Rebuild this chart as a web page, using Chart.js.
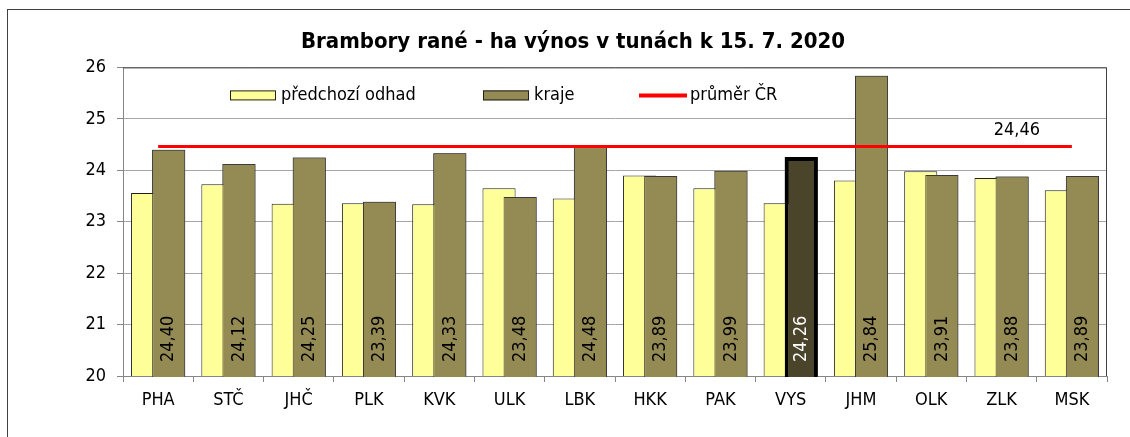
<!DOCTYPE html>
<html lang="cs">
<head>
  <meta charset="UTF-8">
  <title>Brambory rané - ha výnos v tunách</title>
  <script src="https://cdn.jsdelivr.net/npm/chart.js"></script>
  <style>
    body { margin: 0; background: #fff; }
    #wrap { position: relative; width: 1130px; height: 437px; overflow: hidden; }
    #frame {
      position: absolute;
      left: 7px; top: 9px;
      width: 1200px; height: 500px;
      border: 1px solid #404040;
    }
    #chart { position: absolute; left: 0; top: 0; }
  </style>
</head>
<body>
  <div id="wrap">
    <div id="frame"></div>
    <canvas id="chart" width="1130" height="437"></canvas>
  </div>

  <script>
    // data
    const kraje = ['PHA', 'STČ', 'JHČ', 'PLK', 'KVK', 'ULK', 'LBK', 'HKK', 'PAK', 'VYS', 'JHM', 'OLK', 'ZLK', 'MSK'];
    const predchoziOdhad = [23.56, 23.73, 23.35, 23.36, 23.34, 23.65, 23.45, 23.90, 23.65, 23.36, 23.80, 23.98, 23.85, 23.61];
    const krajeVynos = [24.40, 24.12, 24.25, 23.39, 24.33, 23.48, 24.48, 23.89, 23.99, 24.26, 25.84, 23.91, 23.88, 23.89];
    const prumerCR = 24.46;
    const yMin = 20, yMax = 26, yKrok = 1;
    const zvyrazneny = 'VYS';

    const FONT = "'DejaVu Sans Condensed', 'DejaVu Sans', sans-serif";
    Chart.defaults.font.family = FONT;
    Chart.defaults.font.size = 18;
    Chart.defaults.color = '#000';

    const fmt = v => v.toFixed(2).replace('.', ',');

    // sloupce krajů mají být nad předchozím odhadem -> po vykreslení žlutých je kreslíme znovu
    const poradiPlugin = {
      id: 'poradi',
      afterDatasetDraw(chart, args) {
        if (args.index !== 0) return;
        const { ctx, chartArea: a } = chart;
        ctx.save();
        ctx.beginPath();
        ctx.rect(a.left, a.top, a.right - a.left, a.bottom - a.top + 1);
        ctx.clip();
        chart.getDatasetMeta(1).controller.draw();
        ctx.restore();
      }
    };

    // popisky hodnot ve sloupcich + hodnota prumeru
    const popiskyPlugin = {
      id: 'popisky',
      afterDatasetsDraw(chart) {
        const ctx = chart.ctx;
        const y0 = chart.scales.y.getPixelForValue(yMin);
        const meta = chart.getDatasetMeta(1);
        ctx.save();
        ctx.font = '18px ' + FONT;
        meta.data.forEach((bar, i) => {
          ctx.save();
          ctx.translate(bar.x, y0 - 14);
          ctx.rotate(-Math.PI / 2);
          ctx.textAlign = 'left';
          ctx.textBaseline = 'middle';
          ctx.fillStyle = kraje[i] === zvyrazneny ? '#fff' : '#000';
          ctx.fillText(fmt(krajeVynos[i]), 0, 0);
          ctx.restore();
        });
        const lineMeta = chart.getDatasetMeta(2);
        const last = lineMeta.data[lineMeta.data.length - 1];
        ctx.textAlign = 'center';
        ctx.textBaseline = 'middle';
        ctx.fillStyle = '#000';
        ctx.fillText(fmt(prumerCR), last.x - 55, last.y - 16);
        ctx.restore();
      }
    };

    // ramecek grafu a legenda uvnitr plochy
    const legendaPlugin = {
      id: 'legenda',
      afterDraw(chart) {
        const { ctx, chartArea } = chart;
        ctx.save();
        ctx.strokeStyle = '#404040';
        ctx.lineWidth = 1;
        ctx.beginPath();
        ctx.moveTo(chartArea.left, chartArea.top + 0.5);
        ctx.lineTo(chartArea.right - 0.5, chartArea.top + 0.5);
        ctx.lineTo(chartArea.right - 0.5, chartArea.bottom);
        ctx.stroke();

        const ds = chart.data.datasets;
        const y = chartArea.top + 28;
        const polozky = [
          { d: ds[0], dx: 107, typ: 'box' },
          { d: ds[1], dx: 360, typ: 'box' },
          { d: ds[2], dx: 516, typ: 'line' }
        ];
        ctx.font = '18px ' + FONT;
        ctx.textBaseline = 'middle';
        ctx.textAlign = 'left';
        polozky.forEach(p => {
          const x = chartArea.left + p.dx;
          if (p.typ === 'box') {
            const bg = Array.isArray(p.d.backgroundColor) ? p.d.backgroundColor[0] : p.d.backgroundColor;
            ctx.fillStyle = bg;
            ctx.fillRect(x, y - 5, 46, 10);
            ctx.strokeStyle = '#202020';
            ctx.strokeRect(x + 0.5, y - 4.5, 45, 9);
          } else {
            ctx.strokeStyle = p.d.borderColor;
            ctx.lineWidth = 4;
            ctx.beginPath();
            ctx.moveTo(x, y);
            ctx.lineTo(x + 48, y);
            ctx.stroke();
            ctx.lineWidth = 1;
          }
          ctx.fillStyle = '#000';
          ctx.fillText(p.d.label, x + 51, y);
        });
        ctx.restore();
      }
    };

    new Chart(document.getElementById('chart'), {
      type: 'bar',
      data: {
        labels: kraje,
        datasets: [
          {
            label: 'předchozí odhad',
            data: predchoziOdhad,
            backgroundColor: '#FFFF99',
            borderColor: '#202020',
            borderWidth: 1,
            borderSkipped: false,
            barPercentage: 1.57,
            categoryPercentage: 0.6
          },
          {
            label: 'kraje',
            data: krajeVynos,
            backgroundColor: kraje.map(k => k === zvyrazneny ? '#4A452A' : '#948A54'),
            borderColor: kraje.map(k => k === zvyrazneny ? '#000' : '#3A3A3A'),
            borderWidth: kraje.map(k => k === zvyrazneny ? 4 : 1),
            borderSkipped: false,
            barPercentage: 1.57,
            categoryPercentage: 0.6
          },
          {
            type: 'line',
            label: 'průměr ČR',
            data: kraje.map(() => prumerCR),
            borderColor: '#FF0000',
            borderWidth: 3,
            pointRadius: 0,
            order: -1
          }
        ]
      },
      options: {
        responsive: false,
        animation: false,
        layout: { padding: { left: 39, right: 23, top: 14, bottom: 0 } },
        plugins: {
          legend: { display: false },
          tooltip: { enabled: false },
          title: {
            display: true,
            text: 'Brambory rané - ha výnos v tunách k 15. 7. 2020',
            color: '#000',
            font: { size: 22, weight: 'bold', family: FONT },
            padding: { top: 15, bottom: 12 }
          }
        },
        scales: {
          x: {
            type: 'category',
            offset: true,
            grid: { offset: true, drawOnChartArea: false, color: '#868686', tickLength: 6 },
            border: { color: '#868686' },
            ticks: { padding: 8, maxRotation: 0, autoSkip: false },
            afterFit: s => { s.height = 61; }
          },
          y: {
            min: yMin,
            max: yMax,
            ticks: { stepSize: yKrok, padding: 11 },
            grid: { color: '#A6A6A6', tickLength: 6, tickColor: '#868686' },
            border: { color: '#868686' },
            afterFit: s => { s.width = 84; }
          }
        }
      },
      plugins: [poradiPlugin, popiskyPlugin, legendaPlugin]
    });
  </script>
</body>
</html>
